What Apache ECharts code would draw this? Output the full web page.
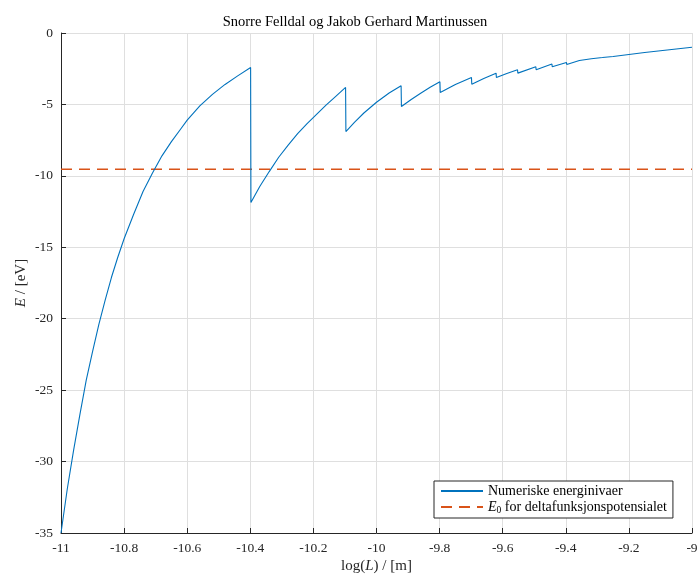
<!DOCTYPE html>
<html>
<head>
<meta charset="utf-8">
<script src="https://cdn.jsdelivr.net/npm/echarts@6/dist/echarts.min.js"></script>
<style>html,body{margin:0;padding:0;background:#fff}#c{width:699px;height:576px}</style>
</head>
<body>
<div id="c"></div>
<script>
// log10(L) values and energies [eV]
const logL = [
  -11, -10.98, -10.96, -10.94, -10.92, -10.90, -10.88, -10.86, -10.84, -10.82, -10.80,
  -10.77, -10.74, -10.71, -10.68, -10.65, -10.62, -10.60, -10.56, -10.52, -10.48, -10.44, -10.399,
  -10.398, -10.37, -10.34, -10.31, -10.28, -10.25, -10.22, -10.19, -10.16, -10.13, -10.098,
  -10.097, -10.07, -10.04, -10.0, -9.96, -9.922,
  -9.921, -9.89, -9.86, -9.83, -9.799,
  -9.798, -9.75, -9.699,
  -9.698, -9.66, -9.621,
  -9.620, -9.587, -9.553,
  -9.552, -9.495,
  -9.494, -9.444,
  -9.443, -9.398,
  -9.397, -9.357,
  -9.356, -9.319,
  -9.318, -9.284,
  -9.283, -9.25, -9.20, -9.15, -9.10, -9.05, -9.0
];
const energy = [
  -35, -31.9, -29.2, -26.7, -24.3, -22.3, -20.4, -18.7, -17.1, -15.7, -14.4,
  -12.7, -11.1, -9.8, -8.6, -7.6, -6.7, -6.1, -5.1, -4.3, -3.6, -3.0, -2.41,
  -11.87, -10.75, -9.7, -8.7, -7.85, -7.05, -6.35, -5.7, -5.05, -4.45, -3.81,
  -6.9, -6.25, -5.6, -4.85, -4.2, -3.69,
  -5.14, -4.65, -4.22, -3.8, -3.41,
  -4.16, -3.6, -3.11,
  -3.58, -3.18, -2.81,
  -3.11, -2.83, -2.57,
  -2.81, -2.36,
  -2.57, -2.17,
  -2.36, -2.06,
  -2.2, -1.92,
  -2.03, -1.80,
  -1.90, -1.72,
  -1.79, -1.64, -1.50, -1.36, -1.24, -1.12, -1.0
];
const deltaX = [-11, -9];
const deltaE0 = -9.54;

const seriesNames = ['Numeriske energinivaer', 'E0 for deltafunksjonspotensialet'];

const chart = echarts.init(document.getElementById('c'), null, {renderer: 'canvas'});
const font = 'Liberation Serif';
const fmt = v => String(Math.round(v * 10) / 10);

chart.setOption({
  animation: false,
  backgroundColor: '#fff',
  title: {
    text: 'Snorre Felldal og Jakob Gerhard Martinussen',
    left: 350, top: 10, textAlign: 'center',
    textStyle: {fontFamily: font, fontSize: 14.5, fontWeight: 'normal', color: '#000'}
  },
  grid: {left: 61, right: 7, top: 33, bottom: 43, containLabel: false, outerBoundsMode: 'none'},
  xAxis: {
    type: 'value', min: -11, max: -9, interval: 0.2, position: 'bottom',
    name: '{n|log(}{i|L}{n|) / [m]}', nameLocation: 'middle', nameGap: 26, nameMoveOverlap: false,
    nameTextStyle: {fontFamily: font, fontSize: 15, color: '#262626',
      rich: {n: {fontFamily: font, fontSize: 15, color: '#262626'}, i: {fontFamily: font, fontSize: 15, fontStyle: 'italic', color: '#262626'}}},
    axisLine: {onZero: false, lineStyle: {color: '#262626', width: 1}},
    axisTick: {inside: true, length: 5, lineStyle: {color: '#262626'}},
    axisLabel: {fontFamily: font, fontSize: 13.5, color: '#262626', margin: 8, formatter: fmt},
    splitLine: {show: true, lineStyle: {color: '#dfdfdf', width: 1}}
  },
  yAxis: {
    type: 'value', min: -35, max: 0, interval: 5, position: 'left',
    name: '{i|E}{n| / [eV]}', nameLocation: 'middle', nameGap: 32, nameRotate: 90, nameMoveOverlap: false,
    nameTextStyle: {fontFamily: font, fontSize: 15, color: '#262626',
      rich: {n: {fontFamily: font, fontSize: 15, color: '#262626'}, i: {fontFamily: font, fontSize: 15, fontStyle: 'italic', color: '#262626'}}},
    axisLine: {show: true, onZero: false, lineStyle: {color: '#262626', width: 1}},
    axisTick: {show: true, inside: true, length: 5, lineStyle: {color: '#262626'}},
    axisLabel: {fontFamily: font, fontSize: 13.5, color: '#262626', margin: 8, formatter: fmt},
    splitLine: {show: true, lineStyle: {color: '#dfdfdf', width: 1}}
  },
  legend: {
    orient: 'vertical', left: 434, top: 481,
    padding: [3, 6, 3, 6], itemGap: 2, itemWidth: 42, itemHeight: 14,
    backgroundColor: '#fff', borderColor: '#262626', borderWidth: 1, borderRadius: 0,
    itemStyle: {opacity: 0},
    data: seriesNames.map(n => ({name: n})),
    formatter: name => name === seriesNames[1] ? '{i|E}{s|0}{n| for deltafunksjonspotensialet}' : '{n|' + name + '}',
    textStyle: {fontFamily: font, fontSize: 14, color: '#000',
      rich: {
        n: {fontFamily: font, fontSize: 14, color: '#000'},
        i: {fontFamily: font, fontSize: 14, fontStyle: 'italic', color: '#000'},
        s: {fontFamily: font, fontSize: 9.5, color: '#000', verticalAlign: 'bottom', padding: [6, 0, 0, 0]}
      }}
  },
  series: [
    {
      name: seriesNames[0], type: 'line', symbol: 'none', showSymbol: false,
      data: logL.map((x, i) => [x, energy[i]]),
      lineStyle: {color: '#0072BD', width: 1.1}, itemStyle: {color: '#0072BD'},
      clip: true, z: 3
    },
    {
      name: seriesNames[1], type: 'line', symbol: 'none', showSymbol: false,
      data: deltaX.map(x => [x, deltaE0]),
      lineStyle: {color: '#D95319', width: 1.5, type: [11, 7]}, itemStyle: {color: '#D95319'},
      z: 2
    }
  ]
});
</script>
</body>
</html>
